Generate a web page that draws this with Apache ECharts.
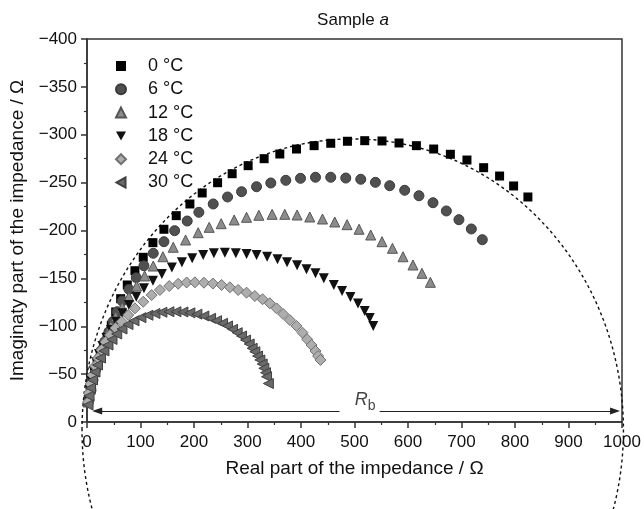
<!DOCTYPE html>
<html>
<head>
<meta charset="utf-8">
<script src="https://cdn.jsdelivr.net/npm/echarts@6/dist/echarts.min.js"></script>
<style>
  html, body { margin: 0; padding: 0; background: #fff; }
  #chart { width: 644px; height: 509px; }
</style>
</head>
<body>
<div id="chart"></div>
<script>
// impedance points [real, imaginary] in ohm
var t0 = [
  [3.7, -23], [7.5, -33.4], [11.2, -43.9], [14.9, -53.3], [19.6, -60.6], [25.6, -68.2],
  [31.7, -78.7], [37.9, -89.1], [45.4, -101], [53.6, -114.9], [62.9, -128.8], [75.3, -143.1],
  [89.6, -158], [105.1, -172], [123.2, -187.3], [143.8, -201.3], [166.8, -215.5], [192.3, -227.7],
  [215.3, -239.2], [244.1, -249.9], [271.3, -259.3], [301.2, -267.7], [331.1, -275], [360.4, -279.9],
  [391.6, -285.1], [424.5, -288.6], [455.6, -291.1], [486.8, -293.2], [519.1, -293.8], [551.4, -293.5],
  [583.2, -291.4], [615.7, -288.6], [648, -285.1], [679.2, -279.6], [710.2, -273.6], [741.4, -265.6],
  [771.2, -256.9], [797.4, -246.5], [824.1, -235]
];
var t6 = [
  [3.7, -23], [7.5, -33.4], [11.2, -43.9], [15.9, -54.3], [20.5, -63.7], [26.1, -74.2],
  [33.1, -83.9], [41.1, -94.3], [48.6, -104.8], [56.6, -115.2], [65.9, -126.4], [78.4, -138.6],
  [92.1, -150.7], [106.4, -163.2], [123.8, -176.2], [143.8, -188.3], [163.8, -199.8], [187.3, -209.9],
  [209.1, -219], [235.9, -227.7], [262.7, -235], [288.9, -240.5], [316.9, -245.7], [343.6, -249.6],
  [371.6, -252.4], [399.1, -254.5], [427.1, -255.6], [455.6, -255.6], [483.7, -254.8], [511.7, -253.5],
  [539.1, -250.3], [565.8, -246.8], [593.8, -242], [620.5, -236.3], [646.7, -229], [671.7, -220.4],
  [695.2, -211.3], [718.4, -201.6], [738.9, -190.4]
];
var t12 = [
  [1.9, -20.9], [3.7, -31.3], [7.5, -41.8], [12.1, -52.2], [16.8, -62.7], [22.4, -72.1],
  [28.9, -81.5], [36.4, -90.9], [44.8, -100.3], [53.6, -110], [65.9, -119.8], [78.4, -130.9],
  [92.8, -142], [107.7, -152.5], [123.8, -162.9], [141.9, -172.6], [161.2, -182.5], [184.3, -190.1],
  [207.8, -197.7], [228.4, -203.3], [250.8, -207.1], [275.1, -211], [298.2, -213.8], [321.2, -215.9],
  [346, -216.9], [369.7, -216.9], [392.7, -216.2], [416.4, -214.1], [440.2, -212], [463.1, -208.9],
  [486.1, -206.1], [508.5, -201.3], [530.3, -195.3], [551.4, -188.3], [570.9, -181.4], [590.7, -172.6],
  [609.3, -164], [626.1, -155.3], [641.8, -145.9]
];
var t18 = [
  [2.8, -23], [4.7, -33.4], [7.5, -43.9], [12.1, -53.3], [16.8, -62.7], [22.4, -71],
  [28.9, -79.4], [36.4, -87.7], [44.8, -96.1], [54.7, -104.8], [65.9, -113.5], [78.4, -122.2],
  [92.1, -130.9], [106.4, -139.6], [123.2, -147.6], [140, -154.6], [158.7, -161.4], [177.4, -166.8],
  [196.6, -171], [217.2, -174.4], [237.2, -176.2], [257.7, -176.8], [278.2, -176.2], [298.2, -175.5],
  [316.9, -174.4], [336.7, -172.6], [356.1, -169.9], [374, -166.8], [392.7, -163.7], [410.3, -159.5],
  [427.1, -155.3], [442.6, -150.1], [461.3, -143.1], [476.8, -136.8], [492.4, -130.5], [506.6, -123.8],
  [519.1, -115.9], [528.5, -108.6], [535, -100.3]
];
var t24 = [
  [1.9, -20.9], [3.7, -30.3], [6.5, -39.7], [10.3, -49.1], [14.9, -58.5], [20.5, -66.8],
  [27.1, -75.2], [34.5, -83.6], [43, -90.9], [53.2, -98.2], [64.8, -104.8], [77.1, -111.7],
  [89.6, -118.7], [105.1, -125.6], [120.8, -132.6], [136.3, -137.9], [153.7, -142], [170.5, -144.4],
  [186.2, -145.7], [201.7, -145.9], [218.5, -145.5], [235.3, -144.6], [251.5, -143.1], [267, -140.7],
  [282.5, -137.9], [298.2, -135.1], [313.7, -131.6], [328.1, -128.2], [341.7, -124], [354.3, -118.7],
  [366.6, -112.8], [379.1, -106.5], [391.6, -100.3], [402.8, -93.3], [411.4, -86.4], [419.6, -80.4],
  [427.1, -74.2], [431.9, -68.9], [436.4, -64.8]
];
var t30 = [
  [1.9, -17.8], [3.7, -27.2], [6.5, -35.5], [10.3, -43.9], [14.9, -52.2], [19.6, -59.5],
  [25.2, -66.8], [31.7, -74.2], [39.2, -80.4], [46.7, -86.2], [55.5, -91.9], [65.4, -97.1],
  [76.6, -101.8], [87.8, -105.7], [100.8, -109], [113.9, -111.5], [127, -113.3], [140, -114.6],
  [153.1, -115.2], [166.2, -115.2], [179.3, -114.9], [192.3, -114], [205.4, -112.6], [218.5, -110.7],
  [231, -108.3], [242.2, -105.8], [253.4, -103.1], [262.7, -100.3], [272.1, -96.8], [280.7, -93.3],
  [288.9, -89.8], [296.4, -85.6], [303.1, -81.5], [308.7, -77], [313.7, -73.4], [318.8, -68.9],
  [323.1, -64.8], [327.4, -60.6], [330.5, -56.1], [333.7, -51.5], [335.6, -47.3], [339, -40.2]
];

var temps = ['0 °C', '6 °C', '12 °C', '18 °C', '24 °C', '30 °C'];

// dashed fit arc (ellipse on screen): centre and half-axes in ohm
var fitCenter = [496.7, 8.4];
var fitRadius = [506, 304];

// R_b arrow
var rbY = -11.5;
var rbFrom = 19;
var rbTo = 987;
var rbGap = [472, 547];
var rbLabelAt = [520, -11.5];

var font = "'Liberation Sans', Arial, sans-serif";
var downTri = 'path://M0,0 L10,0 L5,9 Z';
var leftTri = 'path://M9,0 L9,10 L0,5 Z';

var chart = echarts.init(document.getElementById('chart'));

function pts(name, data, symbol, size, color, border, rotate) {
  return {
    name: name,
    type: 'scatter',
    data: data,
    symbol: symbol,
    symbolSize: size,
    symbolRotate: rotate || 0,
    z: 3,
    itemStyle: {
      color: color,
      opacity: 1,
      borderColor: border || color,
      borderWidth: border ? 1 : 0
    },
    emphasis: { disabled: true }
  };
}

var series = [
  {
    type: 'custom',
    silent: true,
    z: 2,
    data: [fitCenter],
    renderItem: function (params, api) {
      var c = api.coord(fitCenter);
      var rx = api.size([fitRadius[0], 0])[0];
      var ry = api.size([0, fitRadius[1]])[1];
      return {
        type: 'ellipse',
        shape: { cx: c[0], cy: c[1], rx: rx, ry: ry },
        style: { fill: 'none', stroke: '#111', lineWidth: 1.4, lineDash: [3, 3] }
      };
    }
  },
  pts(temps[0], t0, 'rect', 9, '#000'),
  pts(temps[1], t6, 'circle', 10, '#505050', '#3a3a3a'),
  pts(temps[2], t12, 'triangle', 10, '#8c8c8c', '#555'),
  pts(temps[3], t18, 'triangle', 10, '#111', null, 180),
  pts(temps[4], t24, 'diamond', 11, '#adadad', '#707070'),
  pts(temps[5], t30, 'triangle', 10, '#6a6a6a', '#404040', 90),
  {
    type: 'scatter',
    silent: true,
    data: [rbLabelAt],
    symbolSize: 0,
    label: {
      show: true,
      position: 'inside',
      offset: [0, -9],
      formatter: '{r|R}{s|b}',
      rich: {
        r: { fontSize: 18, fontStyle: 'italic', fontFamily: font, color: '#111', verticalAlign: 'top', lineHeight: 22 },
        s: { fontSize: 14, fontFamily: font, color: '#111', verticalAlign: 'bottom', lineHeight: 22 }
      }
    },
    markLine: {
      silent: true,
      symbolSize: [7, 10],
      lineStyle: { color: '#222', width: 1, type: 'solid' },
      label: { show: false },
      emphasis: { disabled: true },
      data: [
        [{ coord: [rbFrom, rbY], symbol: 'triangle' }, { coord: [rbGap[0], rbY], symbol: 'none' }],
        [{ coord: [rbGap[1], rbY], symbol: 'none' }, { coord: [rbTo, rbY], symbol: 'triangle' }]
      ]
    }
  }
];

chart.setOption({
  animation: false,
  graphic: [{
    type: 'text',
    x: 353,
    y: 20,
    style: {
      text: 'Sample {i|a}',
      font: '17px ' + font,
      fill: '#111',
      textAlign: 'center',
      textVerticalAlign: 'middle',
      rich: { i: { fontStyle: 'italic', fontSize: 17, fontFamily: font, fill: '#111' } }
    }
  }],
  legend: {
    data: [
      { name: temps[0] },
      { name: temps[1] },
      { name: temps[2] },
      { name: temps[3], icon: downTri },
      { name: temps[4] },
      { name: temps[5], icon: leftTri }
    ],
    orient: 'vertical',
    left: 110,
    top: 52,
    itemWidth: 10,
    itemHeight: 10,
    itemGap: 5.3,
    textStyle: { fontSize: 18, lineHeight: 18, fontFamily: font, color: '#111', padding: [0, 0, 0, 17] }
  },
  grid: {
    left: 87, right: 22, top: 39, bottom: 87,
    show: true, borderColor: '#333', borderWidth: 1.5, backgroundColor: 'transparent'
  },
  xAxis: {
    type: 'value',
    min: 0, max: 1000, interval: 100,
    name: 'Real part of the impedance / Ω',
    nameLocation: 'middle',
    nameGap: 37,
    nameTextStyle: { fontSize: 19, fontFamily: font, color: '#111' },
    axisLine: { lineStyle: { color: '#333', width: 1.5 } },
    axisTick: { length: 6, lineStyle: { color: '#333', width: 1.5 } },
    minorTick: { show: true, splitNumber: 2, length: 3, lineStyle: { color: '#333', width: 1.2 } },
    axisLabel: {
      fontSize: 17, fontFamily: font, color: '#111', margin: 12,
      formatter: function (v) { return String(v); }
    },
    splitLine: { show: false }
  },
  yAxis: {
    type: 'value',
    inverse: true,
    min: -400, max: 0, interval: 50,
    name: 'Imaginaty part of the impedance / Ω',
    nameLocation: 'middle',
    nameGap: 60,
    nameTextStyle: { fontSize: 19, fontFamily: font, color: '#111' },
    axisLine: { lineStyle: { color: '#333', width: 1.5 } },
    axisTick: { length: 6, lineStyle: { color: '#333', width: 1.5 } },
    minorTick: { show: true, splitNumber: 2, length: 3, lineStyle: { color: '#333', width: 1.2 } },
    axisLabel: {
      fontSize: 17, fontFamily: font, color: '#111', margin: 10,
      formatter: function (v) { return String(v).replace('-', '\u2212'); }
    },
    splitLine: { show: false }
  },
  series: series
});
</script>
</body>
</html>
